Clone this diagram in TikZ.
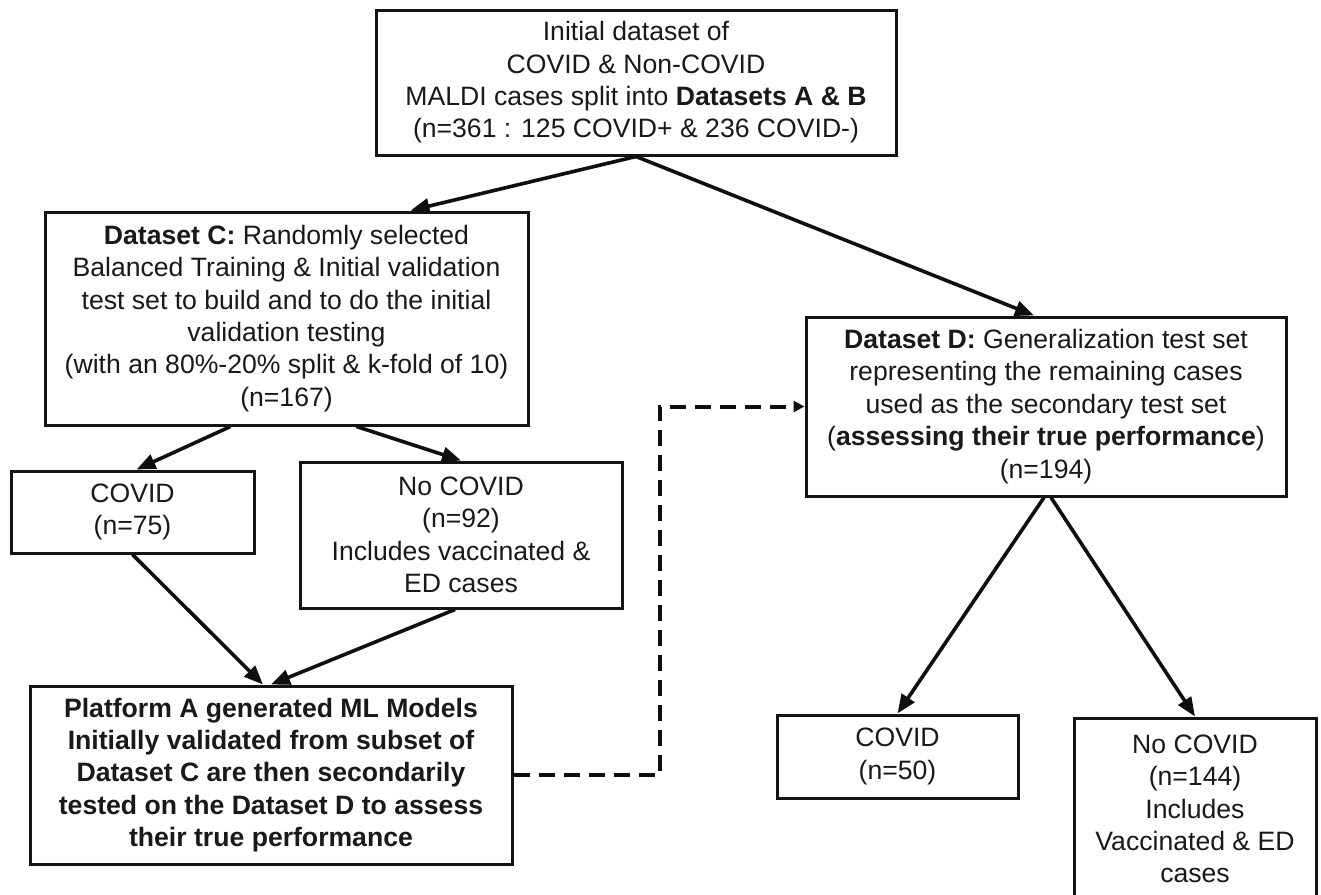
\documentclass[tikz,border=0pt]{standalone}
\usepackage{fontspec}
\setmainfont{Liberation Sans}
\usetikzlibrary{arrows.meta,calc}
\definecolor{boxbdr}{RGB}{20,20,20}
\definecolor{txtclr}{RGB}{25,25,25}
\definecolor{arrowclr}{RGB}{15,15,15}
\tikzset{
  blk/.style={rectangle,draw=boxbdr,line width=1.5pt,fill=white,
    font=\fontsize{13.3}{16.2}\selectfont,align=center,text=txtclr,inner sep=0pt},
  bblk/.style={blk,font=\fontsize{13.3}{16.2}\selectfont\bfseries},
  arr/.style={-{Triangle[length=9.5pt,width=7.5pt]},line width=1.8pt,color=arrowclr},
  darr/.style={-{Triangle[length=5.5pt,width=5.5pt]},line width=2pt,
    dash pattern=on 8pt off 4.5pt,color=arrowclr},
}

\begin{document}
\begin{tikzpicture}[x=0.5pt,y=-0.5pt]
  \path[use as bounding box,fill=white] (0,0) rectangle (1321,894);

  \node[blk,minimum width=260pt,minimum height=72.5pt] (init) at (636,82.5)
    {Initial dataset of\\COVID \& Non-COVID\\MALDI cases split into \textbf{Datasets A \& B}\\(n=361 : 125 COVID+ \& 236 COVID-)};
  \node[blk,minimum width=241.5pt,minimum height=106.5pt] (dsC) at (286.5,318.5)
    {\textbf{Dataset C:} Randomly selected\\Balanced Training \& Initial validation\\test set to build and to do the initial\\validation testing\\(with an 80\%-20\% split \& k-fold of 10)\\(n=167)};
  \node[blk,minimum width=121.5pt,minimum height=41pt] (covC) at (132.5,512)
    {COVID\\(n=75)};
  \node[blk,minimum width=161pt,minimum height=73pt] (nocovC) at (461,535)
    {No COVID\\(n=92)\\Includes vaccinated \&\\ED cases};
  \node[bblk,minimum width=241pt,minimum height=89pt] (plat) at (271,775)
    {Platform A generated ML Models\\Initially validated from subset of\\Dataset C are then secondarily\\tested on the Dataset D to assess\\their true performance};
  \node[blk,minimum width=240pt,minimum height=89.5pt] (dsD) at (1046,406.5)
    {\textbf{Dataset D:} Generalization test set\\representing the remaining cases\\used as the secondary test set\\(\textbf{assessing their true performance})\\(n=194)};
  \node[blk,minimum width=120.5pt,minimum height=41.5pt] (covD) at (897.5,756.5)
    {COVID\\(n=50)};
  \node[blk,minimum width=121pt,minimum height=91pt] (nocovD) at (1195,809)
    {No COVID\\(n=144)\\Includes\\Vaccinated \& ED\\cases};

  \draw[arr] (init.south) -- ([xshift=62pt]dsC.north);
  \draw[arr] (init.south) -- ([xshift=-6pt]dsD.north);
  \draw[arr] ([xshift=-28pt]dsC.south) -- ([xshift=2pt]covC.north);
  \draw[arr] ([xshift=35pt]dsC.south) -- (nocovC.north);
  \draw[arr] (covC.south) -- ([xshift=-4pt]plat.north);
  \draw[arr] ([xshift=-3pt]nocovC.south) -- (plat.north);
  \draw[darr] (plat.east) -- ++(73pt,0) |- (dsD.west);
  \draw[arr] ([xshift=-1pt]dsD.south) -- (covD.north);
  \draw[arr] ([xshift=2.5pt]dsD.south) -- (nocovD.north);
\end{tikzpicture}
\end{document}
